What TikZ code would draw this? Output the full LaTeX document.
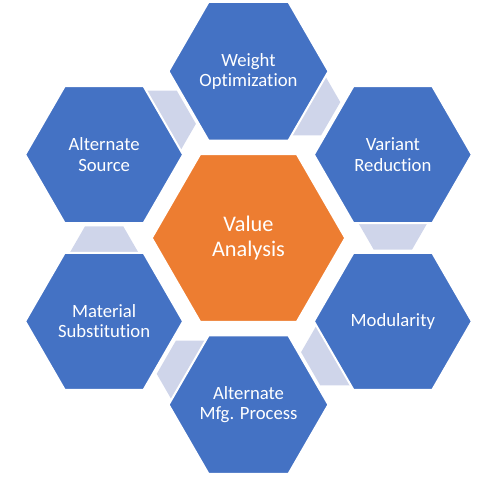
\documentclass[tikz,border=0pt]{standalone}
\usepackage{fontspec}
\setmainfont{Carlito}[Ligatures=NoCommon]
\usetikzlibrary{shapes.geometric,calc}
\definecolor{hexblue}{HTML}{4472C4}
\definecolor{hexorange}{HTML}{ED7D31}
\definecolor{linkfill}{HTML}{CFD5EA}
\begin{document}
\begin{tikzpicture}[x=1pt,y=1pt,
  hexbase/.style={regular polygon, regular polygon sides=6, inner sep=0pt,
    draw=white, line width=2pt, text=white, align=center},
  outerhex/.style={hexbase, minimum size=158pt, fill=hexblue,
    font=\fontsize{18.7}{20.3}\selectfont},
  centerhex/.style={hexbase, minimum size=193.5pt, fill=hexorange,
    font=\fontsize{22.3}{25}\selectfont},
  linkshape/.style={fill=linkfill}]
\useasboundingbox (0,0) rectangle (498,477);
\coordinate (O) at (248.5,239);
\foreach \t/\n in {90/w,30/v,-30/m,-90/p,-150/s,150/a}
  \coordinate (c\n) at ($(O)+(\t:166.7)$);
% light connectors between neighbouring hexagons
\foreach \t/\n in {90/w,30/v,-30/m,-90/p,-150/s,150/a}
  \fill[linkshape, shift={(c\n)}, rotate=\t-120]
    (62,-38.2) -- (94.9,-19.2) -- (94.9,19.2) -- (62,38.2) -- cycle;
% hexagons
\node[outerhex] (w) at (cw) {Weight\\Optimization};
\node[outerhex] (v) at (cv) {Variant\\Reduction};
\node[outerhex] (m) at (cm) {Modularity};
\node[outerhex] (p) at (cp) {Alternate\\Mfg. Process};
\node[outerhex] (s) at (cs) {Material\\Substitution};
\node[outerhex] (a) at (ca) {Alternate\\Source};
\node[centerhex] (c) at (O) {Value\\Analysis};
\end{tikzpicture}
\end{document}
